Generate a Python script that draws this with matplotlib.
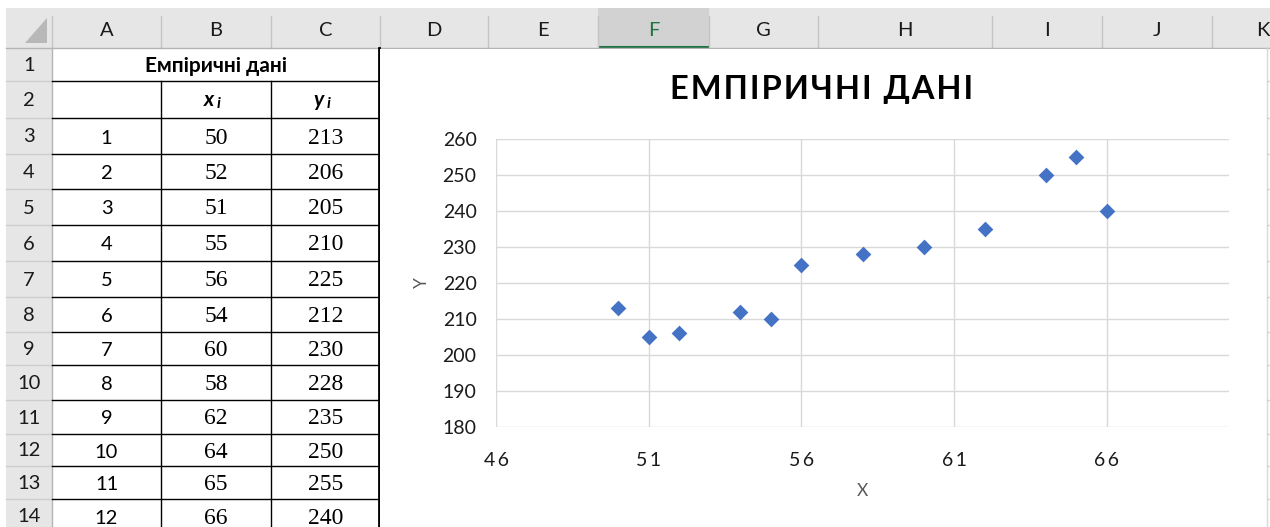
import matplotlib
matplotlib.use("Agg")
import matplotlib.pyplot as plt
from matplotlib.patches import Rectangle, Polygon

# Data from the sheet
row_no = [1, 2, 3, 4, 5, 6, 7, 8, 9, 10, 11, 12]
x_vals = [50, 52, 51, 55, 56, 54, 60, 58, 62, 64, 65, 66]
y_vals = [213, 206, 205, 210, 225, 212, 230, 228, 235, 250, 255, 240]
col_labels = ["A", "B", "C", "D", "E", "F", "G", "H", "I", "J", "K"]
row_labels = [str(i) for i in range(1, 15)]
table_title = "Емпіричні дані"
chart_title = "ЕМПІРИЧНІ ДАНІ"
x_ticks = [46, 51, 56, 61, 66]
y_ticks = [180, 190, 200, 210, 220, 230, 240, 250, 260]

W, H = 1270, 527
UI = ["Lato", "Open Sans", "DejaVu Sans"]
SERIF = ["Liberation Serif", "DejaVu Serif"]

# Sheet layout (pixels)
col_x = [6, 52, 161, 271, 380, 488, 598, 709, 818, 992, 1102, 1212, 1320]
row_y = [48, 81, 118, 154, 189, 225, 261, 297, 332, 365, 400, 434, 466, 499, 533]
head_top = 8
sel_col = 5  # F

def spaced(s, sep="\u200a"):
    # mimic Excel's letter spacing
    return sep.join(s)

fig = plt.figure(figsize=(W / 100, H / 100), dpi=100)
fig.patch.set_facecolor("white")
bg = fig.add_axes([0, 0, 1, 1])
bg.set_xlim(0, W)
bg.set_ylim(H, 0)
bg.axis("off")

# header band + row header column
bg.add_patch(Rectangle((col_x[0], head_top), W - col_x[0], row_y[0] - head_top, color="#e6e6e6", lw=0))
bg.add_patch(Rectangle((col_x[0], row_y[0]), col_x[1] - col_x[0], H - row_y[0], color="#e6e6e6", lw=0))
bg.add_patch(Rectangle((col_x[sel_col + 1], head_top), col_x[sel_col + 2] - col_x[sel_col + 1],
                       row_y[0] - head_top, color="#d2d2d2", lw=0))
bg.plot([col_x[sel_col + 1], col_x[sel_col + 2]], [row_y[0] - 1.2, row_y[0] - 1.2], color="#217346", lw=2.2,
        solid_capstyle="butt")
bg.add_patch(Polygon([(47, 18), (47, 43), (25, 43)], closed=True, color="#b8b8b8", lw=0))

for cx in col_x[1:-1]:
    bg.plot([cx, cx], [16, row_y[0]], color="#c4c4c4", lw=1)
for ry in row_y[1:]:
    bg.plot([col_x[0], col_x[1]], [ry, ry], color="#cdcdcd", lw=1)
bg.plot([col_x[0], W], [row_y[0], row_y[0]], color="#b4b4b4", lw=1)
bg.plot([col_x[1], col_x[1]], [row_y[0], H], color="#b4b4b4", lw=1)

for i, lab in enumerate(col_labels):
    cx = (col_x[i + 1] + col_x[i + 2]) / 2
    c = "#217346" if i == sel_col else "#1a1a1a"
    if cx + 8 > W:
        # last column letter sits at the window edge
        bg.text(W - 1, 30, lab, ha="right", va="center", fontsize=14.5, family=UI, color=c)
    else:
        bg.text(cx, 30, lab, ha="center", va="center", fontsize=14.5, family=UI, color=c)
for i, lab in enumerate(row_labels):
    cy = (row_y[i] + row_y[i + 1]) / 2 + 1
    bg.text(29, cy, lab, ha="center", va="center", fontsize=14.5, family=UI, color="#1a1a1a")

# table borders
for ry in row_y[1:]:
    bg.plot([col_x[1], col_x[4] - 2], [ry, ry], color="black", lw=1)
for cx in col_x[2:4]:
    bg.plot([cx, cx], [row_y[1], H], color="black", lw=1)
bg.plot([378.5, 378.5], [row_y[0], H], color="black", lw=2)

# table text
ca = (col_x[1] + col_x[2]) / 2
cb = (col_x[2] + col_x[3]) / 2
cc = (col_x[3] + col_x[4]) / 2
bg.text((col_x[1] + col_x[4]) / 2, (row_y[0] + row_y[1]) / 2 + 1, table_title, ha="center", va="center",
        fontsize=15, fontweight="bold", family=UI)
yh = (row_y[1] + row_y[2]) / 2
for cx, sym in [(cb, "x"), (cc, "y")]:
    bg.text(cx - 2, yh, sym, ha="right", va="center", fontsize=15, fontweight="bold", style="italic", family=UI)
    bg.text(cx + 1, yh + 4, "i", ha="left", va="center", fontsize=11.5, fontweight="bold", style="italic", family=UI)
for k in range(len(row_no)):
    cy = (row_y[k + 2] + row_y[k + 3]) / 2 + 2
    bg.text(ca, cy, str(row_no[k]), ha="center", va="center", fontsize=14.5, family=UI)
    bg.text(cb, cy, str(x_vals[k]), ha="center", va="center", fontsize=17, family=SERIF)
    bg.text(cc, cy, str(y_vals[k]), ha="center", va="center", fontsize=17, family=SERIF)

# chart area
bg.add_patch(Rectangle((380, row_y[0] + 0.5), 1266 - 380, H - row_y[0], facecolor="white",
                       edgecolor="none", zorder=3))
bg.plot([1266.5, 1266.5], [row_y[0], H], color="#d9d9d9", lw=1, zorder=4)
for ry in row_y[1:]:
    bg.plot([1267, W], [ry, ry], color="#d4d4d4", lw=1, zorder=4)
bg.text(822, 89, spaced(chart_title), ha="center", va="center", fontsize=23.5, fontweight="bold", family=UI,
        zorder=5)
bg.text(862, 491, "X", ha="center", va="center", fontsize=12.5, family=UI, color="#595959", zorder=5)
bg.text(422, 283, "Y", ha="center", va="center", fontsize=12.5, family=UI, color="#595959", rotation=90,
        zorder=5)

ax = fig.add_axes([496 / W, 1 - 427 / H, 733 / W, 288 / H], zorder=6)
ax.patch.set_alpha(0)
ax.scatter(x_vals, y_vals, marker="D", s=64, color="#4472C4", zorder=3, linewidths=0)
ax.set_xlim(46, 70)
ax.set_ylim(180, 260)
ax.set_xticks(x_ticks)
ax.set_yticks(y_ticks)
ax.set_xticklabels([spaced(str(t), "\u2009") for t in x_ticks], family=UI, fontsize=14, color="#1a1a1a")
ax.set_yticklabels([str(t) for t in y_ticks], family=UI, fontsize=14, color="#1a1a1a")
ax.tick_params(length=0)
ax.tick_params(axis="y", pad=14)
ax.tick_params(axis="x", pad=18)
ax.grid(True, color="#d9d9d9", lw=1)
ax.set_axisbelow(True)
for s in ax.spines.values():
    s.set_visible(False)

fig.savefig("out.png", dpi=100)
